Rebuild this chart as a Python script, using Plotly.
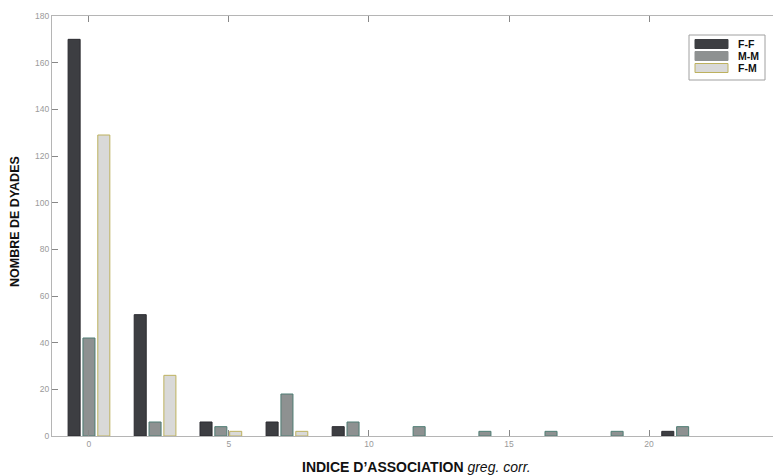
import plotly.graph_objects as go

# group centres on the association index axis
indice = [0, 2.36, 4.71, 7.07, 9.43, 11.79, 14.14, 16.5, 18.86, 21.2]
ff = [170, 52, 6, 6, 4, 0, 0, 0, 0, 2]
mm = [42, 6, 4, 18, 6, 4, 2, 2, 2, 4]
fm = [129, 26, 2, 2, 0, 0, 0, 0, 0, 0]
x_ticks = [0, 5, 10, 15, 20]

series = [
    ("F-F", ff, "#3d3e42", "#2b2b30", -0.745),
    ("M-M", mm, "#8e9191", "#4f7d74", -0.215),
    ("F-M", fm, "#d9d9d8", "#bdb15e", 0.315),
]

# the page body has an 8px margin, so the figure starts at (8, 8) on screen.
# plot area wanted on screen: x 52..784 (right line just off the picture), y 16..436
OFF = 8
L, R, T, B = 52, 784, 16, 436
W, H = 784, 475


def px_x(p):
    return (p - L) / (R - L)


def px_y(p):
    return (B - p) / (B - T)


fig = go.Figure()
for name, vals, fill, edge, off in series:
    fig.add_trace(go.Bar(
        x=indice, y=vals, name=name, showlegend=False,
        width=0.43, offset=off,
        marker=dict(color=fill, line=dict(color=edge, width=[1 if v else 0 for v in vals])),
    ))

# legend box drawn by hand so the swatches are wide like the original
shapes = [dict(type="rect", xref="paper", yref="paper",
               x0=px_x(689), x1=px_x(765), y0=px_y(80), y1=px_y(35),
               line=dict(color="#a0a0a0", width=1), fillcolor="white")]
annotations = []
for i, (name, vals, fill, edge, off) in enumerate(series):
    yc = 44 + i * 12
    shapes.append(dict(type="rect", xref="paper", yref="paper",
                       x0=px_x(695), x1=px_x(728), y0=px_y(yc + 4.5), y1=px_y(yc - 4.5),
                       line=dict(color=edge if i == 2 else fill, width=1), fillcolor=fill))
    annotations.append(dict(xref="paper", yref="paper", x=px_x(736), y=px_y(yc),
                            xanchor="left", yanchor="middle", showarrow=False,
                            text="<b>" + name + "</b>",
                            font=dict(size=10.5, color="#111")))

annotations.append(dict(xref="paper", yref="paper", x=px_x(416), y=px_y(467),
                        xanchor="center", yanchor="middle", showarrow=False,
                        text="<b>INDICE D’ASSOCIATION</b> <i>greg. corr.</i>",
                        font=dict(size=14, color="#111")))
annotations.append(dict(xref="paper", yref="paper", x=px_x(15), y=px_y(222),
                        xanchor="center", yanchor="middle", showarrow=False, textangle=-90,
                        text="<b>NOMBRE DE DYADES</b>",
                        font=dict(size=12.5, color="#111")))

axis_font = dict(family="Liberation Sans, Arial", size=8.5, color="#9a9a9a")
fig.update_layout(
    width=W, height=H,
    margin=dict(l=L - OFF, r=W - (R - OFF), t=T - OFF, b=H - (B - OFF)),
    plot_bgcolor="white", paper_bgcolor="white",
    barmode="overlay",
    font=dict(family="Liberation Sans, Arial"),
    xaxis=dict(
        range=[-1.32, 24.82], tickvals=x_ticks, automargin=False,
        ticks="inside", ticklen=6, tickcolor="#888", showgrid=False, zeroline=False,
        showline=True, linecolor="#b5b5b5", linewidth=1, mirror="ticks",
        tickfont=axis_font,
    ),
    yaxis=dict(
        range=[0, 180], dtick=20, automargin=False,
        ticks="inside", ticklen=6, tickcolor="#888", showgrid=False, zeroline=False,
        showline=True, linecolor="#b5b5b5", linewidth=1, mirror="ticks",
        tickfont=axis_font,
    ),
    shapes=shapes,
    annotations=annotations,
)

fig.write_html("out.html")
